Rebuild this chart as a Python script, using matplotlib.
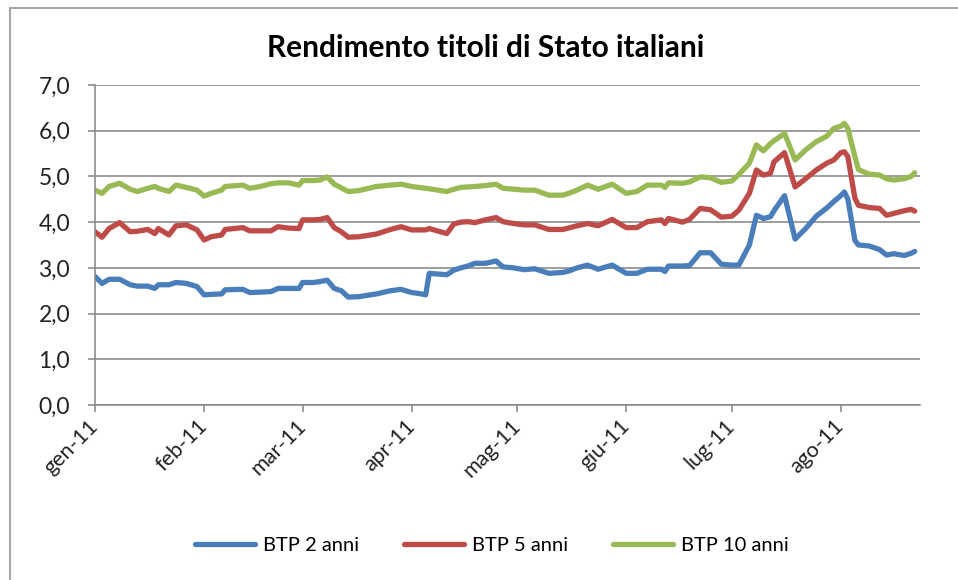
import matplotlib
matplotlib.use("Agg")
import matplotlib.pyplot as plt
from matplotlib.patches import Rectangle
from matplotlib.ticker import FuncFormatter
import pandas as pd

plt.rcParams['font.family'] = ['Lato', 'DejaVu Sans']

# dati (rendimenti %)
dates = [
    "2011-01-01", "2011-01-03", "2011-01-05", "2011-01-08", "2011-01-11", "2011-01-13", "2011-01-16", "2011-01-18",
    "2011-01-19", "2011-01-22", "2011-01-24", "2011-01-27", "2011-01-30", "2011-02-01", "2011-02-03", "2011-02-06",
    "2011-02-07", "2011-02-12", "2011-02-14", "2011-02-17", "2011-02-20", "2011-02-22", "2011-02-25", "2011-02-28",
    "2011-03-01", "2011-03-04", "2011-03-06", "2011-03-08", "2011-03-10", "2011-03-12", "2011-03-14", "2011-03-17",
    "2011-03-22", "2011-03-26", "2011-03-29", "2011-04-01", "2011-04-03", "2011-04-05", "2011-04-06", "2011-04-11",
    "2011-04-13", "2011-04-15", "2011-04-17", "2011-04-19", "2011-04-22", "2011-04-25", "2011-04-27", "2011-04-30",
    "2011-05-03", "2011-05-06", "2011-05-10", "2011-05-14", "2011-05-16", "2011-05-18", "2011-05-21", "2011-05-24",
    "2011-05-28", "2011-06-01", "2011-06-04", "2011-06-07", "2011-06-11", "2011-06-12", "2011-06-13", "2011-06-17",
    "2011-06-19", "2011-06-22", "2011-06-25", "2011-06-28", "2011-07-01", "2011-07-03", "2011-07-06", "2011-07-08",
    "2011-07-10", "2011-07-12", "2011-07-13", "2011-07-16", "2011-07-19", "2011-07-22", "2011-07-25", "2011-07-28",
    "2011-07-30", "2011-08-01", "2011-08-02", "2011-08-03", "2011-08-05", "2011-08-06", "2011-08-09", "2011-08-12",
    "2011-08-14", "2011-08-16", "2011-08-19", "2011-08-21", "2011-08-22",
]

btp2 = [
    2.81, 2.66, 2.75, 2.75, 2.63, 2.60, 2.60, 2.55,
    2.63, 2.63, 2.68, 2.66, 2.59, 2.41, 2.42, 2.43,
    2.52, 2.53, 2.46, 2.47, 2.48, 2.55, 2.55, 2.55,
    2.68, 2.68, 2.70, 2.73, 2.55, 2.50, 2.36, 2.37,
    2.43, 2.50, 2.53, 2.46, 2.44, 2.41, 2.88, 2.85,
    2.95, 3.00, 3.04, 3.10, 3.10, 3.15, 3.02, 3.00,
    2.96, 2.98, 2.88, 2.90, 2.94, 3.00, 3.06, 2.97,
    3.06, 2.88, 2.88, 2.97, 2.97, 2.92, 3.04, 3.04,
    3.05, 3.33, 3.33, 3.08, 3.06, 3.06, 3.50, 4.15,
    4.08, 4.12, 4.25, 4.58, 3.63, 3.86, 4.13, 4.31,
    4.45, 4.58, 4.66, 4.50, 3.60, 3.50, 3.48, 3.40,
    3.28, 3.31, 3.27, 3.32, 3.36,
]

btp5 = [
    3.79, 3.67, 3.86, 3.99, 3.79, 3.80, 3.84, 3.75,
    3.86, 3.72, 3.92, 3.94, 3.83, 3.61, 3.68, 3.72,
    3.84, 3.88, 3.81, 3.81, 3.81, 3.90, 3.87, 3.86,
    4.05, 4.05, 4.06, 4.10, 3.88, 3.79, 3.67, 3.68,
    3.74, 3.84, 3.90, 3.83, 3.83, 3.83, 3.86, 3.75,
    3.96, 4.00, 4.01, 3.99, 4.05, 4.10, 4.01, 3.97,
    3.94, 3.94, 3.84, 3.84, 3.88, 3.92, 3.97, 3.92,
    4.06, 3.88, 3.88, 4.01, 4.05, 3.97, 4.08, 4.00,
    4.06, 4.30, 4.27, 4.11, 4.13, 4.26, 4.63, 5.14,
    5.03, 5.07, 5.32, 5.52, 4.77, 4.95, 5.14, 5.29,
    5.36, 5.52, 5.54, 5.43, 4.52, 4.37, 4.32, 4.30,
    4.15, 4.19, 4.25, 4.28, 4.24,
]

btp10 = [
    4.70, 4.63, 4.78, 4.85, 4.72, 4.67, 4.74, 4.78,
    4.74, 4.67, 4.81, 4.76, 4.70, 4.57, 4.63, 4.70,
    4.78, 4.81, 4.74, 4.78, 4.84, 4.86, 4.86, 4.81,
    4.91, 4.91, 4.92, 4.99, 4.83, 4.75, 4.67, 4.69,
    4.78, 4.81, 4.83, 4.78, 4.76, 4.74, 4.73, 4.67,
    4.72, 4.76, 4.77, 4.78, 4.80, 4.83, 4.74, 4.72,
    4.70, 4.70, 4.59, 4.59, 4.64, 4.70, 4.81, 4.72,
    4.83, 4.63, 4.67, 4.81, 4.81, 4.76, 4.86, 4.85,
    4.88, 4.99, 4.97, 4.87, 4.90, 5.04, 5.29, 5.69,
    5.56, 5.72, 5.78, 5.94, 5.36, 5.58, 5.76, 5.88,
    6.05, 6.10, 6.16, 6.05, 5.43, 5.15, 5.05, 5.03,
    4.95, 4.92, 4.95, 5.00, 5.08,
]

series_names = ["BTP 2 anni", "BTP 5 anni", "BTP 10 anni"]
colors = ["#4A7EBB", "#BE4B48", "#98B954"]
month_labels = ["gen-11", "feb-11", "mar-11", "apr-11", "mag-11", "giu-11", "lug-11", "ago-11"]
month_starts = pd.date_range("2011-01-01", periods=8, freq="MS")

x = pd.to_datetime(dates)

fig = plt.figure(figsize=(9.58, 5.8), dpi=100)
ax = fig.add_axes([95 / 958, 1 - 405 / 580, (920 - 95) / 958, (405 - 85) / 580])

for vals, name, col in zip([btp2, btp5, btp10], series_names, colors):
    ax.plot(x, vals, color=col, lw=3.8, label=name, solid_joinstyle='round', solid_capstyle='round')

ax.set_ylim(0, 7)
ax.set_xlim(pd.Timestamp("2011-01-01"), pd.Timestamp("2011-08-23 12:00"))
ax.set_yticks(range(0, 8))
ax.yaxis.set_major_formatter(FuncFormatter(lambda v, p: f"{v:.1f}".replace(".", ",")))
ax.set_xticks(month_starts)
ax.set_xticklabels(month_labels, rotation=45, ha='right', va='center', rotation_mode='anchor')

ax.grid(axis='y', color='#8c8c8c', lw=1.2)
ax.set_axisbelow(True)
for s in ['top', 'right']:
    ax.spines[s].set_visible(False)
for s in ['left', 'bottom']:
    ax.spines[s].set_color('#8c8c8c')
    ax.spines[s].set_linewidth(1.2)
ax.tick_params(axis='both', colors='#8c8c8c', labelcolor='#222222', length=5, width=1.2)
ax.tick_params(axis='y', pad=13, labelsize=16.5)
ax.tick_params(axis='x', pad=8, labelsize=15.5)

fig.text(486 / 958, 1 - 48 / 580, "Rendimento titoli di Stato italiani", ha='center', va='center',
         fontsize=21.5, fontweight='bold', color='black')

fig.legend(loc='center', bbox_to_anchor=(492 / 958, 1 - 545 / 580), ncol=3, frameon=False,
           fontsize=14.5, handlelength=3.0, columnspacing=2.2, handletextpad=0.4)

# bordo dell'area del grafico
fig.patches.append(Rectangle((10 / 958, -0.05), 1.2, 1 - 8 / 580 + 0.05, transform=fig.transFigure,
                             fill=False, edgecolor='#a6a6a6', lw=1.5))

fig.savefig("out.png", dpi=100)
